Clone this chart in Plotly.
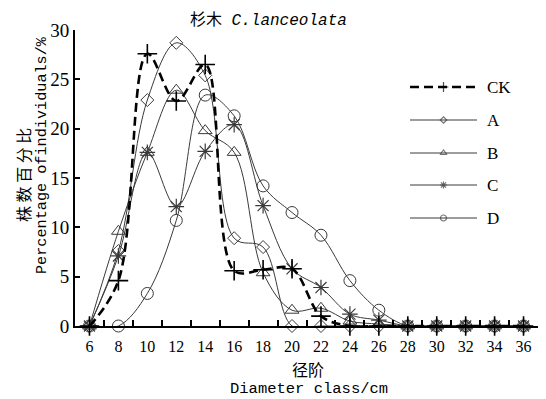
import plotly.graph_objects as go

# ---- data ----
classes = ["6", "8", "10", "12", "14", "16", "18", "20", "22", "24", "26", "28", "30", "32", "34", "36"]
ck = [0, 4.6, 27.6, 22.8, 26.5, 5.6, 5.7, 5.8, 1.0, 0, 0, 0, 0, 0, 0, 0]
a = [0, 7.6, 22.9, 28.7, 25.4, 8.9, 8.0, 0, 0, 0, 0, 0, 0, 0, 0, 0]
b = [0, 9.6, 17.6, 23.9, 19.8, 17.6, 5.4, 1.6, 1.8, 0.5, 0.2, 0, 0, 0, 0, 0]
c = [0, 7.1, 17.6, 12.1, 17.7, 20.4, 12.2, 5.8, 3.9, 1.2, 0.6, 0, 0, 0, 0, 0]
d = [0, 0, 3.3, 10.7, 23.4, 21.3, 14.2, 11.5, 9.2, 4.6, 1.6, 0, 0, 0, 0, 0]
series_names = ["CK", "A", "B", "C", "D"]
y_ticks = [0, 5, 10, 15, 20, 25, 30]

W, H = 546, 399
L, R, T, B = 75, 8, 30, 73
PW, PH = W - L - R, H - T - B


def px(x):
    return (x - L) / PW


def py(y):
    return (H - B - y) / PH


GRAY = "#3a3a3a"
styles = {
    "CK": dict(line=dict(color="black", width=2.6, dash="9px,5px", shape="spline", smoothing=1.0),
               marker=dict(symbol="cross-thin-open", size=14, line=dict(color="black", width=1.6))),
    "A": dict(line=dict(color=GRAY, width=1, shape="spline", smoothing=1.0),
              marker=dict(symbol="diamond-open", size=10, color=GRAY, line=dict(color=GRAY, width=1))),
    "B": dict(line=dict(color=GRAY, width=1, shape="spline", smoothing=1.0),
              marker=dict(symbol="triangle-up-open", size=12, color=GRAY, line=dict(color=GRAY, width=1))),
    "C": dict(line=dict(color=GRAY, width=1, shape="spline", smoothing=1.0),
              marker=dict(symbol="asterisk-open", size=13, color=GRAY, line=dict(color=GRAY, width=1.2))),
    "D": dict(line=dict(color=GRAY, width=1, shape="spline", smoothing=1.0),
              marker=dict(symbol="circle-open", size=12, color=GRAY, line=dict(color=GRAY, width=1))),
}
values = {"CK": ck, "A": a, "B": b, "C": c, "D": d}

fig = go.Figure()
for name in ["D", "C", "B", "A", "CK"]:
    st = styles[name]
    fig.add_trace(go.Scatter(x=classes, y=values[name], mode="lines+markers", name=name,
                             line=st["line"], marker=st["marker"], cliponaxis=False,
                             showlegend=False))

# ---- custom legend (layout, pixel based) ----
leg_x0, leg_x1 = 410, 477
leg_ys = [87, 120, 153, 185, 218]
small_marker = {"CK": ("cross-thin-open", 7), "A": ("diamond-open", 5), "B": ("triangle-up-open", 6),
                "C": ("asterisk-open", 6), "D": ("circle-open", 6)}
for name, ly in zip(series_names, leg_ys):
    st = styles[name]
    ln = dict(st["line"])
    ln.pop("shape", None)
    ln.pop("smoothing", None)
    sym, sz = small_marker[name]
    fig.add_trace(go.Scatter(x=[leg_x0, (leg_x0 + leg_x1) / 2, leg_x1], y=[ly, ly, ly],
                             xaxis="x2", yaxis="y2", mode="lines+markers", showlegend=False,
                             line=ln, hoverinfo="skip",
                             marker=dict(symbol=sym, size=[0, sz, 0], color=ln["color"],
                                         line=dict(color=ln["color"], width=1.2))))
    fig.add_annotation(x=px(485), y=py(ly), xref="paper", yref="paper", text=name,
                       showarrow=False, xanchor="left", yanchor="middle",
                       font=dict(family="Liberation Serif", size=17, color="black"))

mono = "Liberation Mono, Noto Sans CJK SC"
annots = [
    dict(x=px(268), y=py(20), text="杉木 <i>C.lanceolata</i>", font=dict(family=mono, size=16)),
    dict(x=px(308), y=py(369), text="径阶", font=dict(family="Noto Sans CJK SC", size=16)),
    dict(x=px(309), y=py(389), text="Diameter class/cm", font=dict(family=mono, size=15.5)),
    dict(x=px(23), y=py(175), text="株 数 百 分 比", textangle=-90,
         font=dict(family="Noto Sans CJK SC", size=16)),
    dict(x=px(42), y=py(155), text="Percentage ofindividuals/%", textangle=-90,
         font=dict(family=mono, size=15.2)),
]
for an in annots:
    an["font"]["color"] = "black"
    fig.add_annotation(xref="paper", yref="paper", showarrow=False,
                       xanchor="center", yanchor="middle", **an)

fig.update_layout(
    width=W, height=H,
    margin=dict(l=L, r=R, t=T, b=B),
    paper_bgcolor="white", plot_bgcolor="white",
    showlegend=False,
    xaxis=dict(type="category", categoryorder="array", categoryarray=classes,
               range=[-0.5, len(classes) - 0.5], tickson="boundaries",
               ticks="inside", ticklen=6, tickwidth=1.5, tickcolor="black",
               ticklabelstandoff=5,
               showline=True, linewidth=2, linecolor="black", showgrid=False, zeroline=False,
               tickfont=dict(family="Liberation Serif", size=16, color="black")),
    yaxis=dict(range=[0, 30], tickvals=y_ticks, ticks="inside", ticklen=5, tickwidth=1.5,
               tickcolor="black", showline=True, linewidth=2, linecolor="black",
               showgrid=False, zeroline=False,
               tickfont=dict(family="Liberation Serif", size=19, color="black")),
    xaxis2=dict(overlaying="x", range=[L, W - R], visible=False),
    yaxis2=dict(overlaying="y", range=[H - B, T], visible=False),
)

fig.write_html("out.html")
